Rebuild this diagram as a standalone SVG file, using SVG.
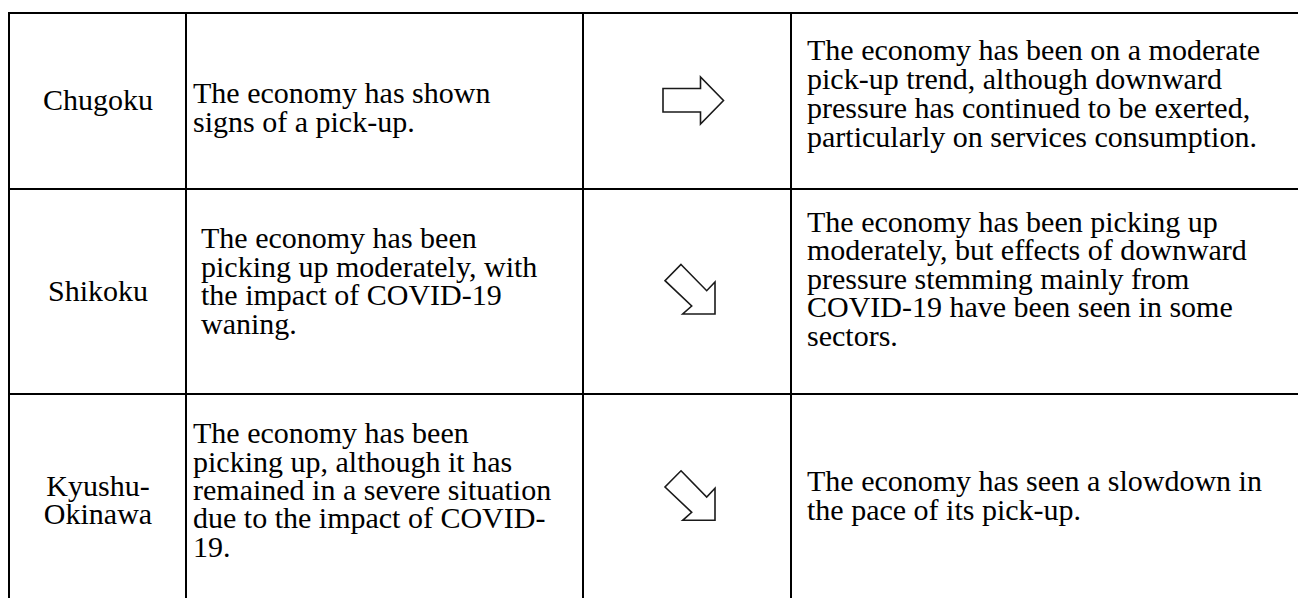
<svg xmlns="http://www.w3.org/2000/svg" width="1298" height="598" viewBox="0 0 1298 598">
<style>
  text { font-family: "Liberation Serif", "Times New Roman", serif; font-size: 30px; fill: #000; }
  .c { text-anchor: middle; }
  .grid line { stroke: #000; stroke-width: 2; }
  .thick { stroke: #000; stroke-width: 5; }
  .arrow { fill: #fff; stroke: #1a1a1a; stroke-width: 1.6; stroke-linejoin: miter; }
</style>
<defs>
  <polygon id="arrowRight" class="arrow" points="663,88.5 700.5,88.5 700.5,77 723.5,100.5 700.5,124 700.5,112 663,112"/>
  <polygon id="arrowDown" class="arrow" points="681,264.5 706.7,290.7 715,282 715,314 682.7,314 691.7,306 665,280.7"/>
</defs>
<rect x="0" y="0" width="1298" height="598" fill="#fff"/>

<g id="grid" class="grid">
  <line x1="8" y1="13" x2="1298" y2="13"/>
  <line x1="9" y1="12" x2="9" y2="598"/>
  <line x1="186" y1="13" x2="186" y2="598"/>
  <line x1="791" y1="13" x2="791" y2="598"/>
  <line x1="9" y1="189" x2="1298" y2="189"/>
  <line x1="9" y1="394" x2="1298" y2="394"/>
  <line class="thick" x1="583" y1="12" x2="583" y2="598"/>
</g>

<g id="row-chugoku">
  <text class="c" x="98" y="110">Chugoku</text>
  <text x="193" y="102.7">The economy has shown</text>
  <text x="193" y="131.7">signs of a pick-up.</text>
  <use href="#arrowRight"/>
  <text x="807" y="59.5">The economy has been on a moderate</text>
  <text x="807" y="88.5">pick-up trend, although downward</text>
  <text x="807" y="117.5">pressure has continued to be exerted,</text>
  <text x="807" y="146.5">particularly on services consumption.</text>
</g>

<g id="row-shikoku">
  <text class="c" x="98" y="301">Shikoku</text>
  <text x="201" y="248.3">The economy has been</text>
  <text x="201" y="276.8">picking up moderately, with</text>
  <text x="201" y="305.3">the impact of COVID-19</text>
  <text x="201" y="333.8">waning.</text>
  <use href="#arrowDown"/>
  <text x="807" y="231.5">The economy has been picking up</text>
  <text x="807" y="260">moderately, but effects of downward</text>
  <text x="807" y="288.5">pressure stemming mainly from</text>
  <text x="807" y="317">COVID-19 have been seen in some</text>
  <text x="807" y="345.5">sectors.</text>
</g>

<g id="row-kyushu-okinawa">
  <text class="c" x="98" y="496">Kyushu-</text>
  <text class="c" x="98" y="524">Okinawa</text>
  <text x="193" y="443.3">The economy has been</text>
  <text x="193" y="471.7">picking up, although it has</text>
  <text x="193" y="500">remained in a severe situation</text>
  <text x="193" y="528.3">due to the impact of COVID-</text>
  <text x="193" y="556.7">19.</text>
  <use href="#arrowDown" transform="translate(0,206.3)"/>
  <text x="807" y="491">The economy has seen a slowdown in</text>
  <text x="807" y="520">the pace of its pick-up.</text>
</g>
</svg>
